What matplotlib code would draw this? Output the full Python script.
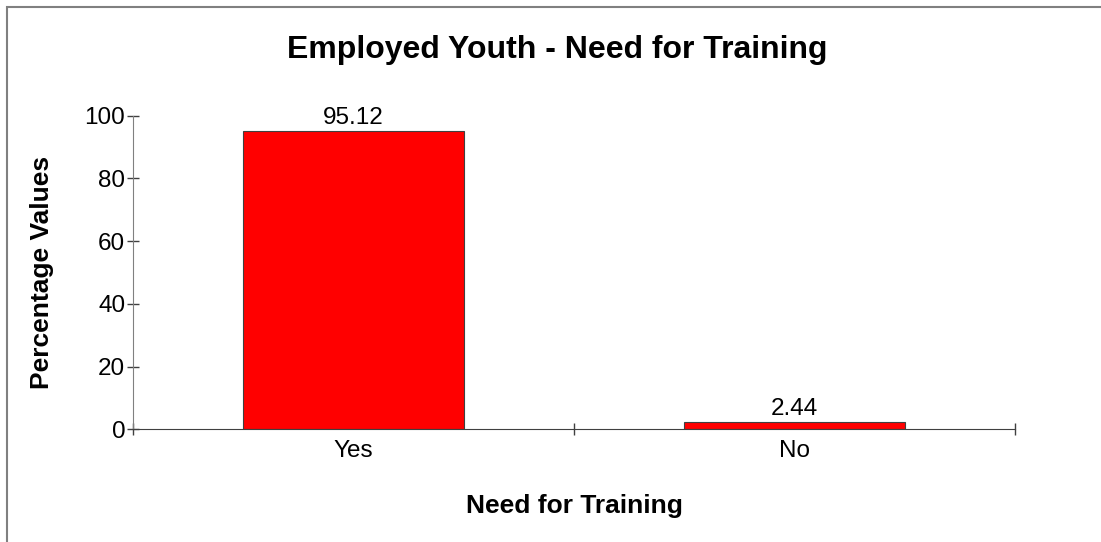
import matplotlib
matplotlib.use("Agg")
import matplotlib.pyplot as plt
from matplotlib.patches import Rectangle
from matplotlib.ticker import FixedLocator, NullFormatter

plt.rcParams['font.family'] = ['Liberation Sans', 'DejaVu Sans']

categories = ["Yes", "No"]
values = [95.12, 2.44]
value_labels = ["95.12", "2.44"]
title = "Employed Youth - Need for Training"
xlabel = "Need for Training"
ylabel = "Percentage Values"
yticks = [0, 20, 40, 60, 80, 100]

W, H, DPI = 1101, 542, 100
fig = plt.figure(figsize=(W / DPI, H / DPI), dpi=DPI)
fig.patch.set_facecolor("white")

# outer frame (left and top edges visible)
fig.add_artist(Rectangle((7 / W, -0.05), 1.2, 1.05 - 7 / H, transform=fig.transFigure,
                         fill=False, edgecolor="#808080", linewidth=1.5))

ax_left, ax_right, ax_top, ax_bottom = 133, 1015, 115.7, 429.3
ax = fig.add_axes([ax_left / W, (H - ax_bottom) / H,
                   (ax_right - ax_left) / W, (ax_bottom - ax_top) / H])

x = list(range(len(categories)))
ax.bar(x, values, width=0.5, color="#FF0000", edgecolor="#404040", linewidth=0.8)

for xi, v, lab in zip(x, values, value_labels):
    ax.annotate(lab, (xi, v), xytext=(0, 4.8), textcoords="offset points",
                ha="center", va="baseline", fontsize=17.5)

ax.set_xlim(-0.5, len(categories) - 0.5)
ax.set_ylim(0, 100)

# category boundaries as tick marks, names centred under the bars
ax.xaxis.set_major_locator(FixedLocator([i - 0.5 for i in range(len(categories) + 1)]))
ax.xaxis.set_major_formatter(NullFormatter())
ax.xaxis.set_minor_locator(FixedLocator(x))
ax.set_xticklabels(categories, minor=True)
ax.tick_params(axis="x", which="major", direction="inout", length=9, width=1, color="#404040")
ax.tick_params(axis="x", which="minor", length=0, pad=8, labelsize=17.5)

ax.set_yticks(yticks)
ax.tick_params(axis="y", direction="inout", length=9, width=1, color="#404040", pad=1,
               labelsize=17.5)

for s in ("top", "right"):
    ax.spines[s].set_visible(False)
ax.spines["left"].set_color("#808080")
ax.spines["bottom"].set_color("#404040")

ax.set_xlabel(xlabel, fontsize=19, fontweight="bold")
ax.xaxis.label.set_va("baseline")
ax.xaxis.set_label_coords(0.5, -(513 - ax_bottom) / (ax_bottom - ax_top))

ax.set_ylabel(ylabel, fontsize=19, fontweight="bold")
ax.yaxis.label.set_va("center")
ax.yaxis.set_label_coords((42.5 - ax_left) / (ax_right - ax_left), 0.5)

fig.text(557.5 / W, 1 - 57.7 / H, title, ha="center", va="baseline",
         fontsize=23, fontweight="bold")

fig.savefig("out.png", dpi=DPI, facecolor="white")
